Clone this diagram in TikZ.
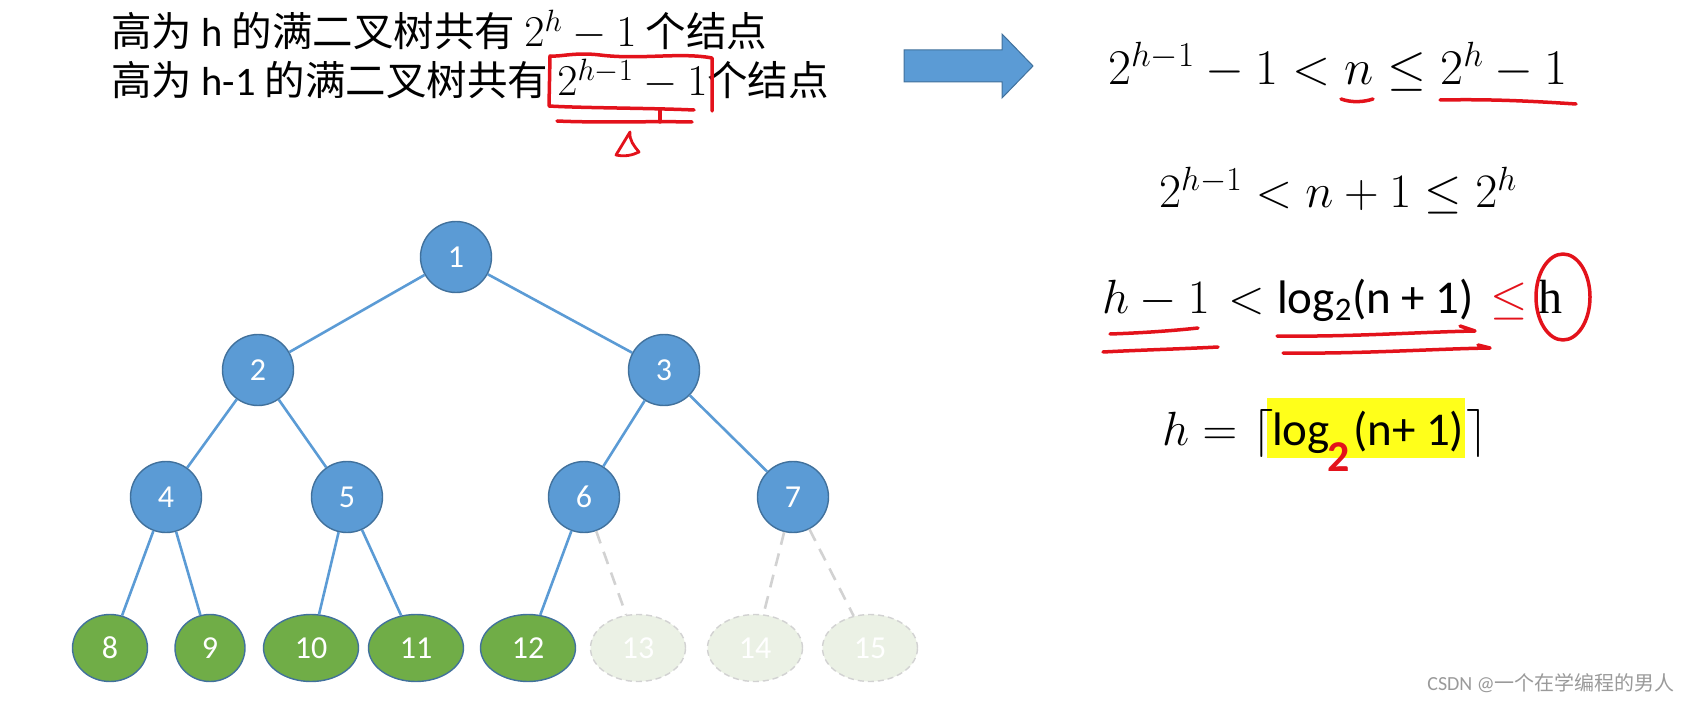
\RequirePackage{fix-cm}
\documentclass[tikz,border=0pt]{standalone}
\usepackage{amsmath}
\usepackage{fontspec}
\setmainfont{Carlito}
\newfontfamily\cjk{Noto Sans CJK SC}
\newfontfamily\serifh{Liberation Serif}
\usepackage{tikz}
\usetikzlibrary{positioning,shapes.geometric}
\usepackage{xcolor}
\definecolor{nodeblue}{HTML}{5B9BD5}
\definecolor{nodeline}{HTML}{41719C}
\definecolor{leafgreen}{HTML}{70AD47}
\definecolor{leafpale}{HTML}{EBF1E5}
\definecolor{ghostline}{HTML}{D2D2D2}
\definecolor{penred}{HTML}{E3121B}
\definecolor{markyellow}{HTML}{FFFF1A}
\definecolor{wmgray}{HTML}{9A9A9A}
\newcommand{\bigmath}[1]{{\fontsize{44}{44}\selectfont$#1$}}

\begin{document}
\begin{tikzpicture}[
  x=1pt, y=-1pt,
  inner/.style={circle, draw=nodeline, line width=1.4pt, fill=nodeblue, minimum size=71pt, inner sep=0pt, text=white, font=\fontsize{32}{32}\selectfont},
  leaf/.style={ellipse, draw=nodeline, line width=1.4pt, fill=leafgreen, minimum width=95pt, minimum height=67pt, inner sep=0pt, text=white, font=\fontsize{32}{32}\selectfont},
  ghost/.style={leaf, draw=ghostline, dash pattern=on 6pt off 4pt, fill=leafpale},
  treeline/.style={nodeblue, line width=2.6pt},
  ghostlink/.style={ghostline, line width=2.6pt, dash pattern=on 13pt off 9pt},
  redpen/.style={penred, line width=3.5pt, line cap=round, line join=round},
  txt/.style={inner sep=0pt, anchor=base west, font=\fontsize{40.5}{44}\selectfont},
  eq/.style={inner sep=0pt, anchor=base west, font=\fontsize{48}{52}\selectfont}
]
\useasboundingbox (0,0) rectangle (1692,703);

% top text
\node[txt] (t1) at (111,47) {{\cjk 高为} h {\cjk 的满二叉树共有} \bigmath{2^h-1} {\cjk 个结点}};
\node[txt] (t2) at (111,96) {{\cjk 高为} h-1 {\cjk 的满二叉树共有} \bigmath{2^{h-1}-1}{\cjk 个结点}};
\draw[redpen] (712,111) -- (712,58) .. controls (680,52) and (640,60) .. (600,55)
  .. controls (575,52) and (560,57) .. (550,56) -- (549,106) .. controls (580,108) and (650,108) .. (694,110);
\draw[redpen] (660,110) -- (660,122);
\draw[redpen] (557,121) .. controls (600,123) and (650,121) .. (692,122);
\draw[redpen, line width=2.8pt] (630,132) -- (616,155) .. controls (625,157) and (633,155) .. (639,152)
  .. controls (634,146) and (629,140) .. (630,132);

% block arrow
\fill[nodeblue, draw=nodeline, line width=1pt] (904,50) -- (1002,50) -- (1002,34) -- (1033,66)
  -- (1002,98) -- (1002,82) -- (904,82) -- cycle;

% right column
\node[eq, font=\fontsize{50}{54}\selectfont] (e1) at (1108,85) {$2^{h-1}-1<n\le 2^h-1$};
\draw[redpen] (1341,99) .. controls (1352,103) and (1364,102) .. (1373,99);
\draw[redpen] (1440,100) .. controls (1490,99) and (1530,101) .. (1576,104);

\node[eq, anchor=base] (e2) at (1338,208) {$2^{h-1}<n+1\le 2^h$};

\node[eq] (e3a) at (1102,313) {$h-1$};
\node[eq] (e3b) at (1228,313) {$<$};
\node[eq, font=\fontsize{47}{52}\selectfont] (e3c) at (1277,313) {log\textsubscript{2}(n + 1)};
\node[eq, text=penred] (e3d) at (1490,313) {$\le$};
\node[eq, font=\fontsize{48}{52}\serifh] (e3e) at (1538,313) {h};
\draw[redpen] (1110,334) .. controls (1140,333) and (1170,331) .. (1198,328);
\draw[redpen] (1103,352) .. controls (1140,350) and (1180,349) .. (1218,347);
\draw[redpen] (1277,336) .. controls (1350,337) and (1420,332) .. (1475,331) -- (1460,326);
\draw[redpen] (1283,353) .. controls (1360,354) and (1430,349) .. (1490,348) -- (1478,345);
\draw[redpen] (1563,297) ellipse [x radius=27, y radius=43];

\node[fill=markyellow, minimum width=198pt, minimum height=60pt, inner sep=0pt] (hl) at (1366,428) {};
\node[eq] (e4a) at (1162,445) {$h=$};
\node[eq] (e4l) at (1252,445) {$\lceil$};
\node[eq, font=\fontsize{47}{52}\selectfont] (e4b) at (1272,445) {log};
\node[inner sep=0pt, text=penred, font=\fontsize{44}{44}\selectfont\bfseries] (e4s) at (1339,457) {2};
\node[eq, font=\fontsize{47}{52}\selectfont] (e4c) at (1353,445) {(n+ 1)};
\node[eq] (e4r) at (1466,445) {$\rceil$};

% tree
\node[inner] (n1) at (456,257) {1};
\node[inner] (n2) at (258,370) {2};
\node[inner] (n3) at (664,370) {3};
\node[inner] (n4) at (166,497) {4};
\node[inner] (n5) at (347,497) {5};
\node[inner] (n6) at (584,497) {6};
\node[inner] (n7) at (793,497) {7};
\node[leaf, minimum width=75pt] (n8) at (110,648) {8};
\node[leaf, minimum width=70pt] (n9) at (210,648) {9};
\node[leaf] (n10) at (311,648) {10};
\node[leaf] (n11) at (416,648) {11};
\node[leaf] (n12) at (528,648) {12};
\node[ghost] (n13) at (638,648) {13};
\node[ghost] (n14) at (755,648) {14};
\node[ghost] (n15) at (870,648) {15};
\draw[treeline] (n1) -- (n2);
\draw[treeline] (n1) -- (n3);
\draw[treeline] (n2) -- (n4);
\draw[treeline] (n2) -- (n5);
\draw[treeline] (n3) -- (n6);
\draw[treeline] (n3) -- (n7);
\draw[treeline] (n4) -- (n8);
\draw[treeline] (n4) -- (n9);
\draw[treeline] (n5) -- (n10);
\draw[treeline] (n5) -- (n11);
\draw[treeline] (n6) -- (n12);
\draw[ghostlink] (n6) -- (n13);
\draw[ghostlink] (n7) -- (n14);
\draw[ghostlink] (n7) -- (n15);

% watermark
\node[inner sep=0pt, anchor=base east, text=wmgray, font=\fontsize{20}{20}\selectfont] (wm) at (1675,690)
  {CSDN @{\cjk 一个在学编程的男人}};
\end{tikzpicture}
\end{document}
